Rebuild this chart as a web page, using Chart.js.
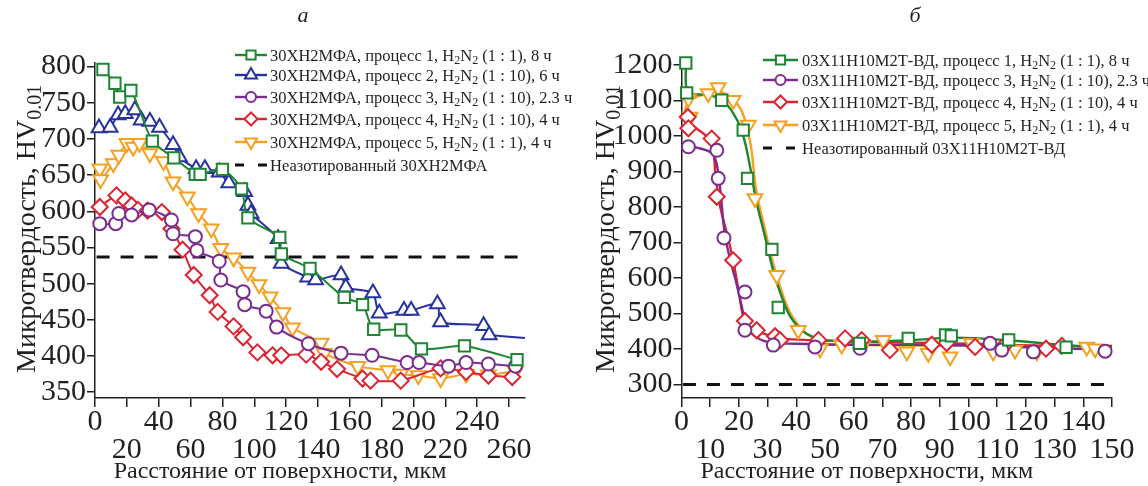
<!DOCTYPE html>
<html>
<head>
<meta charset="utf-8">
<script src="https://cdn.jsdelivr.net/npm/chart.js@4.4.0/dist/chart.umd.min.js"></script>
<style>
  html, body { margin: 0; padding: 0; background: #fff; }
  #wrap { position: relative; width: 1148px; height: 486px; }
  #boxA { position: absolute; left: 0; top: 0; }
  #boxB { position: absolute; left: 575px; top: 0; }
</style>
</head>
<body>
<div id="wrap">
  <div id="boxA"><canvas id="chartA" width="575" height="486"></canvas></div>
  <div id="boxB"><canvas id="chartB" width="573" height="486"></canvas></div>
</div>
<script>
// ---- panel а : 30ХН2МФА ----
const aTicksX = [0, 20, 40, 60, 80, 100, 120, 140, 160, 180, 200, 220, 240, 260];
const aTicksY = [350, 400, 450, 500, 550, 600, 650, 700, 750, 800];
const aBase = 537;

const a1X = [5, 12.5, 15.5, 22.5, 36, 49.5, 63, 66, 80, 92, 96, 116, 117, 135, 156.5, 168, 175, 192, 205, 232, 265];
const a1Y = [796, 777, 758, 767, 697, 674, 651, 651, 658, 631, 591, 564, 541, 521, 481, 471, 437, 436, 410, 414, 395];

const a2X = [2.5, 9.5, 14.5, 19, 25, 29, 34.5, 40.5, 49, 53, 63.5, 69, 78, 84, 94, 96, 98, 115, 117, 133.5, 138.5, 154.5, 157.5, 174.5, 178.5, 194, 198.5, 215, 217, 244, 247.5];
const a2Y = [715, 716, 733, 735, 740, 726, 724, 716, 692, 675, 659, 659, 654, 639, 627, 608, 597, 562, 528, 509, 505, 512, 495, 487, 459, 463, 463, 472, 447, 442, 429];
// the fitted blue curve runs on past the last marker
const a2TailX = [247.5, 258, 270];
const a2TailY = [429, 427, 425];

const a3X = [3, 13, 15, 23, 34, 48, 49, 63, 64, 78, 79, 93, 94, 107.5, 114, 134, 154.5, 174, 196, 203.5, 222, 233, 247, 264];
const a3Y = [583, 583, 597, 595, 602, 588, 569, 565, 546, 531, 505, 489, 471, 462, 440, 417, 404, 401, 391, 391, 386, 391, 389, 386];

const a4X = [3, 13.5, 19, 23, 27, 33, 42, 48, 55, 62, 72, 77, 87, 93, 102, 111.5, 117, 132.6, 142, 152, 168, 173, 192, 217, 233, 247, 262];
const a4Y = [606, 622, 615, 608, 602, 601, 599, 576, 547, 512, 484, 461, 441, 426, 405, 401, 401, 402, 392, 382, 369, 366, 366, 383, 378, 373, 371];

const a5X = [3, 3.5, 11.5, 15, 20, 24, 28, 34.5, 43, 49, 58, 65, 73, 79, 87, 96, 103, 110, 118, 124, 142, 144, 165, 184, 192, 203, 217, 233, 247, 264];
const a5Y = [659, 644, 666, 678, 694, 689, 694, 680, 669, 641, 620, 597, 576, 549, 536, 516, 499, 482, 460, 439, 418, 404, 386, 380, 375, 373, 369, 375, 374, 379];

const aLegend = [
  '30ХН2МФА, процесс 1, H_{2}N_{2} (1 : 1), 8 ч',
  '30ХН2МФА, процесс 2, H_{2}N_{2} (1 : 10), 6 ч',
  '30ХН2МФА, процесс 3, H_{2}N_{2} (1 : 10), 2.3 ч',
  '30ХН2МФА, процесс 4, H_{2}N_{2} (1 : 10), 4 ч',
  '30ХН2МФА, процесс 5, H_{2}N_{2} (1 : 1), 4 ч',
  'Неазотированный 30ХН2МФА'
];

// ---- panel б : 03Х11Н10М2Т-ВД ----
const bTicksX = [0, 10, 20, 30, 40, 50, 60, 70, 80, 90, 100, 110, 120, 130, 140, 150];
const bTicksY = [300, 400, 500, 600, 700, 800, 900, 1000, 1100, 1200];
const bBase = 300;

const b1X = [1.5, 1.8, 14, 21.5, 23, 31.5, 33.7, 62, 79, 92, 94, 114, 134];
const b1Y = [1206, 1122, 1101, 1017, 881, 681, 517, 416, 430, 440, 437, 426, 405];
const b1FitX = [1.5, 2, 5, 10, 14, 18, 21, 23.5, 26, 29, 32, 35, 38, 42, 46, 50, 60, 80, 95, 115, 135, 150];
const b1FitY = [1206, 1125, 1118, 1115, 1102, 1065, 1015, 930, 820, 720, 620, 545, 490, 452, 434, 425, 420, 425, 432, 424, 410, 405];

const b3X = [2.4, 12.3, 12.8, 14.8, 22.1, 22.1, 32, 46.5, 62.2, 107.5, 111.6, 122.6, 147.6];
const b3Y = [970, 960, 881, 713, 561, 453, 411, 406, 402, 416, 397, 392, 394];
const b3FitX = [0.5, 5, 10, 12, 13.5, 15, 17, 19, 21, 22.5, 25, 30, 40, 60, 80, 100, 120, 140, 148];
const b3FitY = [975, 968, 955, 930, 850, 730, 650, 590, 520, 470, 440, 420, 415, 412, 412, 410, 405, 400, 396];

const b4X = [2.2, 2.4, 10.5, 12.3, 18, 22.1, 26.2, 32.6, 34.3, 47.7, 57, 62.8, 72.6, 87.2, 92.4, 102.3, 112, 127, 132.5];
const b4Y = [1054, 1022, 993, 829, 650, 479, 453, 436, 425, 425, 430, 425, 397, 412, 417, 406, 406, 401, 409];
const b4FitX = [0.5, 3, 8, 10.5, 12, 13.5, 16, 18, 20, 22, 25, 30, 35, 45, 60, 80, 100, 120, 140, 150];
const b4FitY = [1060, 1035, 1005, 985, 880, 800, 720, 650, 560, 480, 455, 440, 430, 425, 422, 418, 415, 410, 408, 408];

const b5X = [2.4, 3, 9.3, 12.8, 18, 23.3, 25.6, 33.2, 40.7, 48.3, 55.8, 63.3, 70.3, 78.5, 86, 93.6, 101.1, 108.6, 116.2, 123.8, 141.2, 144.1];
const b5Y = [1106, 1054, 1120, 1137, 1101, 1031, 824, 608, 453, 401, 411, 411, 425, 392, 388, 378, 416, 392, 397, 392, 406, 401];
const b5FitX = [1, 2, 5, 10, 13, 17, 21, 24, 26, 29, 32, 35, 38, 42, 46, 50, 60, 80, 100, 120, 140, 150];
const b5FitY = [1060, 1090, 1110, 1120, 1125, 1110, 1070, 980, 850, 740, 640, 560, 500, 455, 430, 415, 412, 410, 410, 410, 408, 410];

const bLegend = [
  '03Х11Н10М2Т-ВД, процесс 1, H_{2}N_{2} (1 : 1), 8 ч',
  '03Х11Н10М2Т-ВД, процесс 3, H_{2}N_{2} (1 : 10), 2.3 ч',
  '03Х11Н10М2Т-ВД, процесс 4, H_{2}N_{2} (1 : 10), 4 ч',
  '03Х11Н10М2Т-ВД, процесс 5, H_{2}N_{2} (1 : 1), 4 ч',
  'Неазотированный 03Х11Н10М2Т-ВД'
];

const xTitle = 'Расстояние от поверхности, мкм';
const yTitle = 'Микротвердость, HV_{0.01}';

// ---- styles ----
const SERIF = '"Liberation Serif", "DejaVu Serif", serif';
const INK = '#231f20';
const st = {
  p1: { color: '#1e8532', shape: 'rect', r: 8, rot: 0 },
  p2: { color: '#27329c', shape: 'triangle', r: 8.5, rot: 0 },
  p3: { color: '#7a2c90', shape: 'circle', r: 6.5, rot: 0 },
  p4: { color: '#dc2430', shape: 'rectRot', r: 8, rot: 0 },
  p5: { color: '#f5a020', shape: 'triangle', r: 8.5, rot: 180 },
  base: { color: '#111111', shape: false }
};

const pts = (xs, ys) => xs.map((x, i) => ({ x: x, y: ys[i] }));

function markerSet(xs, ys, s, withLine) {
  return {
    data: pts(xs, ys),
    showLine: withLine,
    borderColor: s.color,
    backgroundColor: '#ffffff',
    borderWidth: 2,
    tension: 0.25,
    pointStyle: s.shape,
    pointRadius: s.r,
    pointRotation: s.rot,
    pointBorderWidth: 2,
    pointBackgroundColor: '#ffffff',
    pointBorderColor: s.color,
    clip: false
  };
}
function fitLine(xs, ys, s, w) {
  return {
    data: pts(xs, ys),
    showLine: true,
    borderColor: s.color,
    borderWidth: w || 2.4,
    tension: 0.4,
    pointRadius: 0,
    clip: false
  };
}
function baseLine(x0, x1, v) {
  return {
    data: [{ x: x0, y: v }, { x: x1, y: v }],
    showLine: true,
    borderColor: st.base.color,
    borderWidth: 3,
    borderDash: [13, 11],
    pointRadius: 0
  };
}

// subscript aware text: "H_{2}"
function drawRich(ctx, str, x, y, size) {
  const parts = str.split(/_\{([^}]*)\}/);
  parts.forEach((p, i) => {
    const sub = i % 2 === 1;
    ctx.font = (sub ? Math.round(size * 0.72) : size) + 'px ' + SERIF;
    ctx.fillText(p, x, sub ? y + size * 0.22 : y);
    x += ctx.measureText(p).width;
  });
}

// legend, axis titles and panel letter, drawn on top
const extras = {
  id: 'extras',
  afterDraw(chart, args, o) {
    const ctx = chart.ctx;
    const area = chart.chartArea;
    ctx.save();
    ctx.fillStyle = INK;
    ctx.textBaseline = 'alphabetic';
    // panel letter
    ctx.font = 'italic 22px ' + SERIF;
    ctx.textAlign = 'center';
    ctx.fillText(o.letter, o.letterX, 22);
    // x title
    ctx.font = '24px ' + SERIF;
    ctx.fillText(xTitle, (area.left + area.right) / 2 - 30, 478);
    ctx.textAlign = 'left';
    // y title
    ctx.save();
    ctx.translate(o.yTitleX, 373);
    ctx.rotate(-Math.PI / 2);
    drawRich(ctx, yTitle, 0, 0, 28);
    ctx.restore();
    // legend
    o.items.forEach((it, i) => {
      const y = o.rows[i];
      const s = it.style;
      ctx.save();
      ctx.strokeStyle = s.color;
      ctx.lineWidth = s.shape ? 2.4 : 3;
      if (!s.shape) ctx.setLineDash([9, 14]);
      ctx.beginPath();
      ctx.moveTo(o.lx0, y);
      ctx.lineTo(o.lx1, y);
      ctx.stroke();
      ctx.setLineDash([]);
      if (s.shape) {
        ctx.fillStyle = '#ffffff';
        ctx.lineWidth = 2;
        Chart.helpers.drawPoint(ctx, { pointStyle: s.shape, radius: s.r - 1.5, rotation: s.rot, borderWidth: 2 }, (o.lx0 + o.lx1) / 2, y);
      }
      ctx.restore();
      ctx.fillStyle = INK;
      drawRich(ctx, it.text, o.tx, y + 5.5, 16.5);
    });
    ctx.restore();
  }
};

function axes(ticksX, ticksY, xmin, xmax, ymin, ymax, yWidth) {
  const grid = { display: true, drawOnChartArea: false, drawTicks: true, tickLength: 9, color: INK, lineWidth: 1.5 };
  return {
    x: {
      type: 'linear', min: xmin, max: xmax,
      afterBuildTicks: s => { s.ticks = ticksX.map(v => ({ value: v })); },
      afterFit: s => { s.height = 88; },
      grid: grid,
      border: { color: INK, width: 1.5 },
      ticks: {
        autoSkip: false, maxRotation: 0, color: INK, padding: 1,
        font: { family: SERIF, size: 30, lineHeight: 0.93 },
        callback: (v, i) => (i % 2 ? ['', String(v)] : [String(v), ''])
      }
    },
    y: {
      type: 'linear', min: ymin, max: ymax,
      afterBuildTicks: s => { s.ticks = ticksY.map(v => ({ value: v })); },
      afterFit: s => { s.width = yWidth; },
      grid: Object.assign({}, grid, { tickLength: 8 }),
      border: { color: INK, width: 1.5 },
      ticks: { autoSkip: false, color: INK, padding: 1, font: { family: SERIF, size: 30 }, callback: v => String(v) }
    }
  };
}

Chart.defaults.animation = false;

new Chart(document.getElementById('chartA'), {
  type: 'scatter',
  data: {
    datasets: [
      markerSet(a1X, a1Y, st.p1, true),
      markerSet(a2X, a2Y, st.p2, true),
      markerSet(a3X, a3Y, st.p3, true),
      markerSet(a4X, a4Y, st.p4, true),
      markerSet(a5X, a5Y, st.p5, true),
      fitLine(a2TailX, a2TailY, st.p2, 2),
      baseLine(1, 267, aBase)
    ]
  },
  options: {
    responsive: false,
    layout: { padding: { left: 0, right: 50, top: 63, bottom: 0 } },
    plugins: {
      legend: { display: false },
      tooltip: { enabled: false },
      extras: {
        letter: 'а', letterX: 303, yTitleX: 35,
        lx0: 235, lx1: 267, tx: 270,
        rows: [55, 75, 97, 119, 142, 165],
        items: [
          { text: aLegend[0], style: st.p1 },
          { text: aLegend[1], style: st.p2 },
          { text: aLegend[2], style: st.p3 },
          { text: aLegend[3], style: st.p4 },
          { text: aLegend[4], style: st.p5 },
          { text: aLegend[5], style: st.base }
        ]
      }
    },
    scales: axes(aTicksX, aTicksY, 0, 270, 342, 805, 95)
  },
  plugins: [extras]
});

new Chart(document.getElementById('chartB'), {
  type: 'scatter',
  data: {
    datasets: [
      markerSet(b1X, b1Y, st.p1, false),
      markerSet(b3X, b3Y, st.p3, false),
      markerSet(b4X, b4Y, st.p4, false),
      markerSet(b5X, b5Y, st.p5, false),
      fitLine(b1FitX, b1FitY, st.p1),
      fitLine(b3FitX, b3FitY, st.p3),
      fitLine(b4FitX, b4FitY, st.p4),
      fitLine(b5FitX, b5FitY, st.p5),
      baseLine(0.5, 148.5, bBase)
    ]
  },
  options: {
    responsive: false,
    layout: { padding: { left: 0, right: 36, top: 63, bottom: 0 } },
    plugins: {
      legend: { display: false },
      tooltip: { enabled: false },
      extras: {
        letter: 'б', letterX: 340, yTitleX: 39,
        lx0: 188, lx1: 223, tx: 227,
        rows: [60, 80, 102, 125, 148],
        items: [
          { text: bLegend[0], style: st.p1 },
          { text: bLegend[1], style: st.p3 },
          { text: bLegend[2], style: st.p4 },
          { text: bLegend[3], style: st.p5 },
          { text: bLegend[4], style: st.base }
        ]
      }
    },
    scales: axes(bTicksX, bTicksY, 0, 150, 262, 1206, 106.5)
  },
  plugins: [extras]
});
</script>
</body>
</html>
